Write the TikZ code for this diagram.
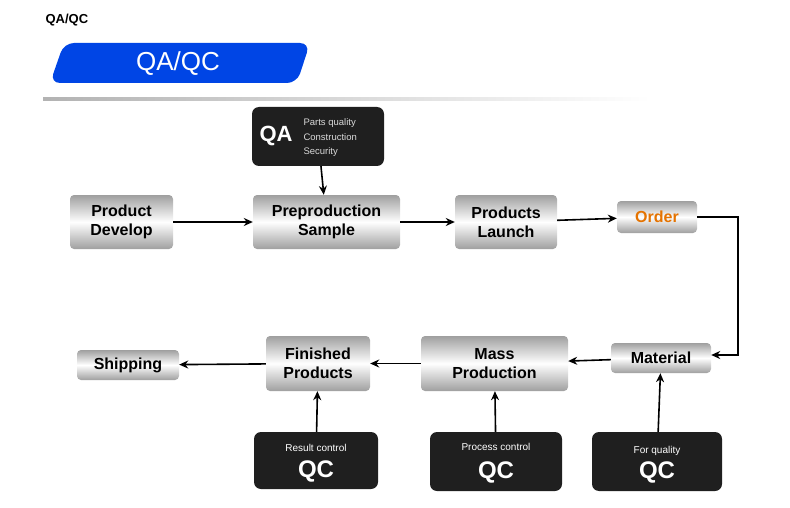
\documentclass[tikz,border=0pt]{standalone}
\usepackage{fontspec}
\setmainfont{Liberation Sans}
\usetikzlibrary{arrows.meta}
\begin{document}
\begin{tikzpicture}[x=1pt,y=-1pt,
  box/.style={rounded corners=4pt,top color=gray!75,bottom color=gray!75,middle color=white,font=\fontsize{16}{19}\selectfont\bfseries,align=center,inner sep=0pt},
  dark/.style={rounded corners=7pt,fill=black!88,text=white,inner sep=0pt},
  arr/.style={-{Stealth[length=9pt,width=8pt]},line width=1.6pt}]
\useasboundingbox (0,0) rectangle (790,508);
\node[anchor=west,font=\fontsize{13}{15}\selectfont\bfseries] (hdr) at (42,20) {QA/QC};
\fill[blue!70!cyan!90!black,rounded corners=10pt] (50,83) -- (64,43) -- (310,43) -- (297,83) -- cycle;
\node[text=white,font=\fontsize{26}{30}\selectfont] (ban) at (178,64) {QA/QC};
\shade[left color=gray!60,right color=white] (43,98) rectangle (650,101);
\node[box,minimum width=103,minimum height=54] (pd) at (121.5,222) {Product\\Develop};
\node[box,minimum width=147,minimum height=54] (ps) at (326.5,222) {Preproduction\\Sample};
\node[box,minimum width=102,minimum height=54] (pl) at (506,222) {Products\\Launch};
\node[box,minimum width=80,minimum height=32,text=orange!90!black] (or) at (657,217) {Order};
\node[dark,minimum width=132,minimum height=59] (qa) at (318,136.5) {};
\node[text=white,font=\fontsize{22}{24}\selectfont\bfseries] (qat) at (276,136) {QA};
\node[text=white!85!black,anchor=west,align=left,font=\fontsize{9.5}{14.5}\selectfont] (qal) at (300,138) {Parts quality\\Construction\\Security};
\node[box,minimum width=100,minimum height=30] (ma) at (661,358) {Material};
\node[box,minimum width=147,minimum height=55] (mp) at (494.5,363.5) {Mass\\Production};
\node[box,minimum width=104,minimum height=55] (fp) at (318,363.5) {Finished\\Products};
\node[box,minimum width=102,minimum height=30] (sh) at (128,365) {Shipping};
\node[dark,minimum width=124,minimum height=57] (q1) at (316,460.5) {};
\node[dark,minimum width=132,minimum height=59] (q2) at (496,461.5) {};
\node[dark,minimum width=130,minimum height=59] (q3) at (657,461.5) {};
\foreach \q/\t/\dy in {q1/Result control/0,q2/Process control/2,q3/For quality/-2}{
  \node[text=white,font=\fontsize{24}{26}\selectfont\bfseries] (\q h) at ([yshift=-11]\q.center) {QC};
  \node[text=white,font=\fontsize{10}{12}\selectfont] (\q s) at ([yshift=13+\dy]\q.center) {\t};
}
\draw[arr] (pd) -- (ps);
\draw[arr] (ps) -- (pl);
\draw[arr] (pl) -- (or);
\draw[arr] (qa) -- (ps);
\coordinate (c1) at (738,217);
\coordinate (c2) at (738,355);
\draw[arr] (or.east) -- (c1) -- (c2) -- (ma.east|-c2);
\draw[arr] (ma) -- (mp);
\draw[arr] (mp) -- (fp);
\draw[arr] (fp) -- (sh);
\draw[arr] (q1) -- (fp);
\draw[arr] (q2) -- (mp);
\draw[arr] (q3) -- (ma);
\end{tikzpicture}
\end{document}
